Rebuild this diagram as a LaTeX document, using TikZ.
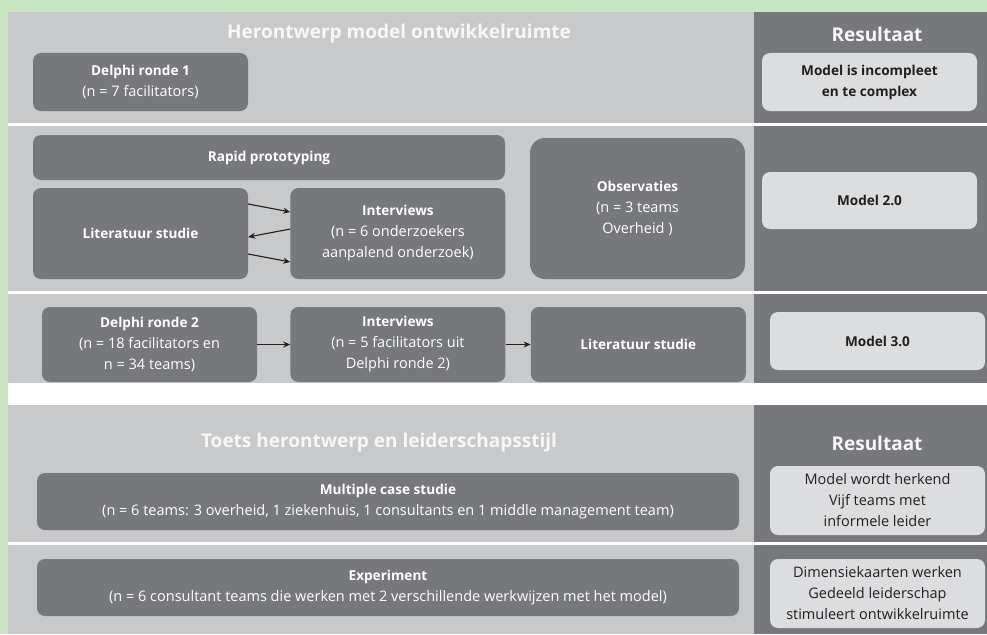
\documentclass[tikz,border=0pt]{standalone}
\usepackage{fontspec}
\setmainfont{Open Sans}
\usepackage{xcolor}
\definecolor{greenbg}{HTML}{C9E5C1}
\definecolor{panel}{HTML}{C8C9CB}
\definecolor{darkbox}{HTML}{77787C}
\definecolor{lightbox}{HTML}{DCDDDF}
\definecolor{inktext}{HTML}{231F20}
\definecolor{titletext}{HTML}{F7F7F7}
\newcommand{\boxhead}[1]{{\fontsize{13.6}{21}\selectfont\bfseries #1}}
\usetikzlibrary{arrows.meta, positioning}

\begin{document}
\begin{tikzpicture}[x=1pt, y=-1pt, node distance=0pt]
  \tikzstyle{method}=[rectangle, rounded corners=8pt, minimum width=215pt,
    minimum height=58pt, align=center, fill=darkbox, text=white,
    font=\fontsize{14.5}{21}\selectfont, inner sep=0pt]
  \tikzstyle{result}=[rectangle, rounded corners=8pt, minimum width=215pt,
    minimum height=58pt, align=center, fill=lightbox, text=inktext,
    font=\fontsize{14.5}{21}\selectfont, inner sep=0pt]
  \tikzstyle{heading}=[text=titletext, font=\fontsize{19}{22}\selectfont\bfseries]
  \tikzstyle{arr}=[-{Stealth[length=7pt, width=6pt]}, line width=1.1pt, color=inktext]
  \useasboundingbox (0,0) rectangle (987,634);
  % background
  \fill[greenbg] (0,0) rectangle (987,634);
  \fill[panel] (8,12) rectangle (987,634);
  \fill[darkbox] (754,12) rectangle (987,634);
  \fill[white] (8,383) rectangle (987,405);
  \foreach \y in {124,292,543}
    \draw[white, line width=3pt] (8,\y) -- (987,\y);
  % herontwerp
  \node[heading] (t1) at (399,34) {Herontwerp model ontwikkelruimte};
  \node[heading] (res1) at (877,34) {Resultaat};
  \node[method] (d1) at (140.5,82) {\boxhead{Delphi ronde 1}\\(n = 7 facilitators)};
  \node[result] (r1) at (869.5,82) {\boxhead{Model is incompleet}\\\boxhead{en te complex}};
  \node[method, minimum width=472pt, minimum height=45pt] (rp) at (269,157.5)
    {\boxhead{Rapid prototyping}};
  \node[method, minimum height=91pt] (lit) at (140.5,233.5) {\boxhead{Literatuur studie}};
  \node[method, minimum height=91pt] (int) [right=42pt of lit]
    {\boxhead{Interviews}\\(n = 6 onderzoekers\\aanpalend onderzoek)};
  \node[method, minimum height=141pt, rounded corners=15pt] (obs) at (637.5,208.5)
    {\boxhead{Observaties}\\(n = 3 teams\\Overheid )};
  \node[result, minimum height=57pt] (r2) at (869.5,200.5) {\boxhead{Model 2.0}};
  \draw[arr] ([yshift=29.5pt]lit.east) -- ([yshift=21.5pt]int.west);
  \draw[arr] ([yshift=4.5pt]int.west) -- ([yshift=-3.5pt]lit.east);
  \draw[arr] ([yshift=-20.5pt]lit.east) -- ([yshift=-28.5pt]int.west);
  \node[method, minimum height=75pt] (d2) at (149.5,344.5)
    {\boxhead{Delphi ronde 2}\\(n = 18 facilitators en\\n = 34 teams)};
  \node[method, minimum height=75pt] (int2) [right=33pt of d2]
    {\boxhead{Interviews}\\(n = 5 facilitators uit\\Delphi ronde 2)};
  \node[method, minimum height=75pt] (lit2) [right=25pt of int2] {\boxhead{Literatuur studie}};
  \node[result] (r3) at (877.5,341) {\boxhead{Model 3.0}};
  \draw[arr] (d2.east) -- (int2.west);
  \draw[arr] (int2.east) -- (lit2.west);
  % toets
  \node[heading] (t2) at (379,443) {Toets herontwerp en leiderschapsstijl};
  \node[heading] (res2) at (877,443) {Resultaat};
  \node[method, minimum width=702pt, minimum height=57pt] (mc) at (388,501.5)
    {\boxhead{Multiple case studie}\\(n = 6 teams: 3 overheid, 1 ziekenhuis, 1 consultants en 1 middle management team)};
  \node[result, minimum height=69pt] (r4) at (877.5,500.5)
    {Model wordt herkend\\Vijf teams met\\informele leider};
  \node[method, minimum width=702pt, minimum height=57pt] (ex) at (388,587.5)
    {\boxhead{Experiment}\\(n = 6 consultant teams die werken met 2 verschillende werkwijzen met het model)};
  \node[result, minimum height=69pt] (r5) at (877.5,593.5)
    {Dimensiekaarten werken\\Gedeeld leiderschap\\stimuleert ontwikkelruimte};
\end{tikzpicture}
\end{document}
